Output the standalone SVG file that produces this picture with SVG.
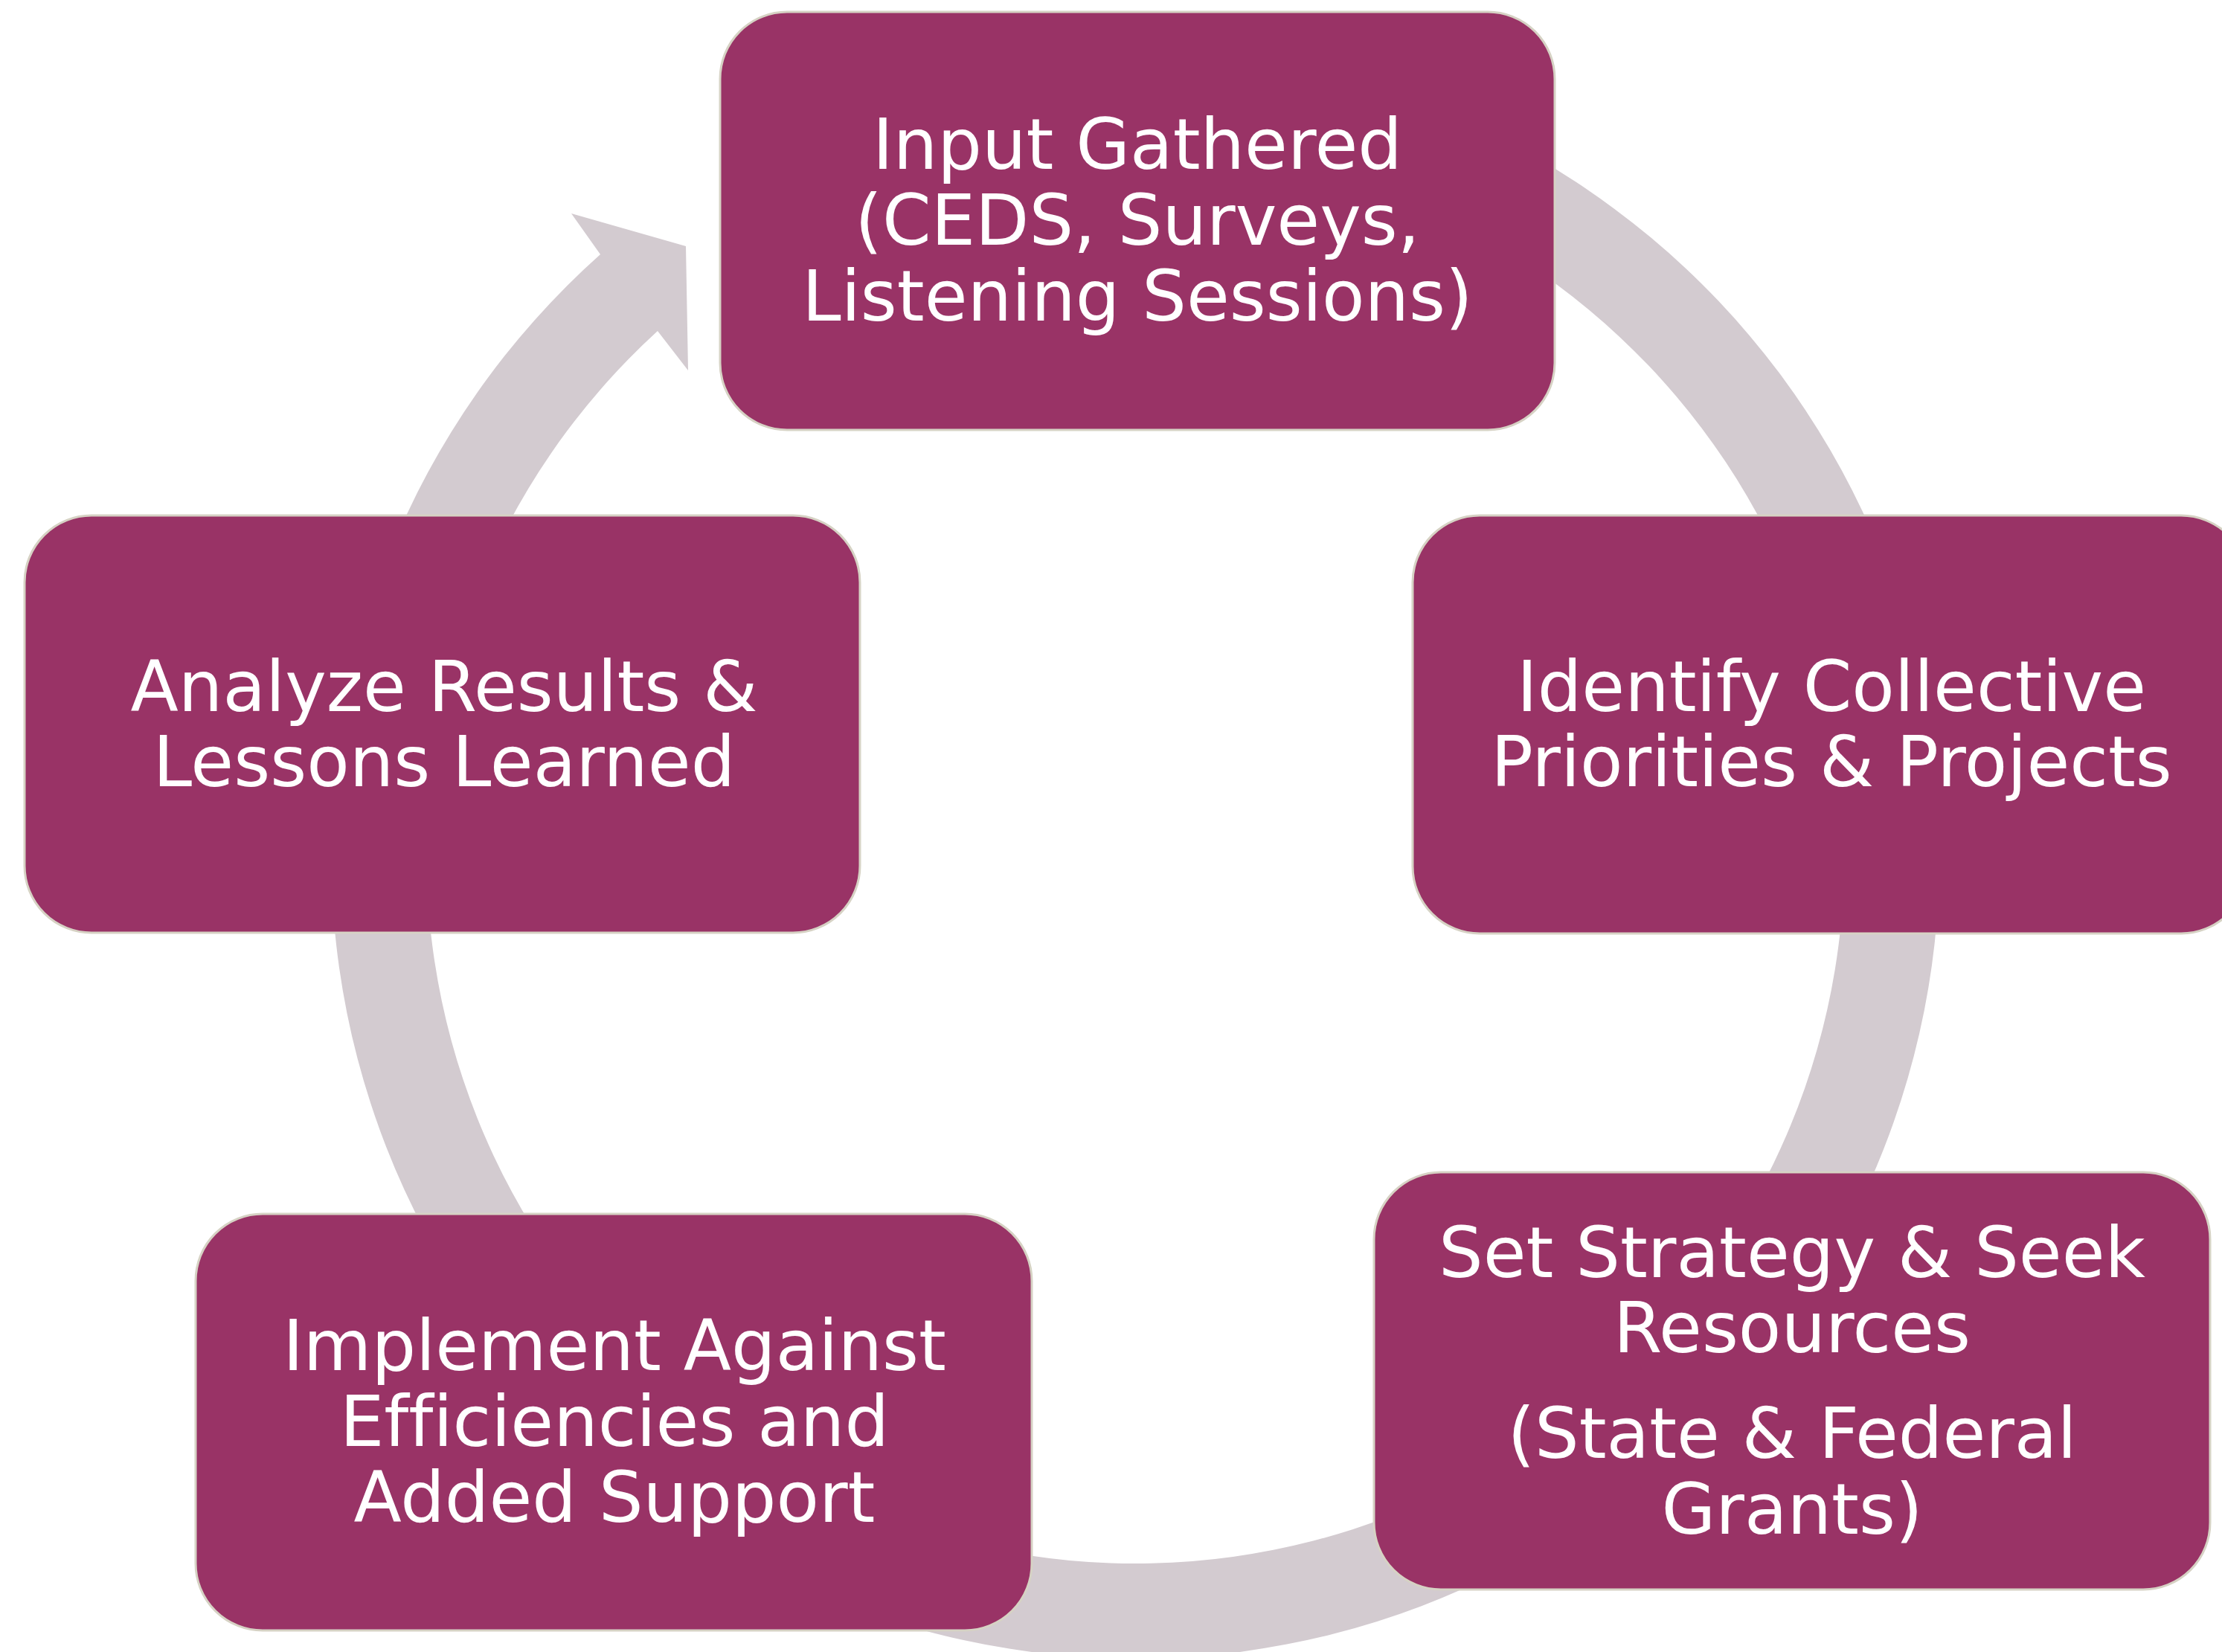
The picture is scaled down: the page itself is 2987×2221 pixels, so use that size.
<svg xmlns="http://www.w3.org/2000/svg" width="2987" height="2221" viewBox="0 0 2987 2221">
<style>
.node{fill:#993366;stroke:#D6D2C4;stroke-width:3}
.lbl{font-family:"DejaVu Sans","Verdana",sans-serif;font-size:94px;fill:#FFFFFF;text-anchor:middle;font-variant-ligatures:none}
.ring{fill:#D3CBD0}
</style>
<rect width="2987" height="2221" fill="#FFFFFF"/>
<g id="connectors">
<path class="ring" d="M1528,68 A1081,1081 0 1 1 807,342 L768,287 L922,331 L925,498 L884,445 A953,953 0 1 0 1528,196 Z"/>
</g>
<g id="node-input">
<rect class="node" x="968" y="16" width="1122" height="562" rx="90" ry="90"/>
<text class="lbl" x="1529" y="227">Input Gathered</text>
<text class="lbl" x="1529" y="329">(CEDS, Surveys,</text>
<text class="lbl" x="1529" y="431">Listening Sessions)</text>
</g>
<g id="node-identify">
<rect class="node" x="1899" y="693" width="1123" height="562" rx="90" ry="90"/>
<text class="lbl" x="2462" y="956">Identify Collective</text>
<text class="lbl" x="2462" y="1057">Priorities &amp; Projects</text>
</g>
<g id="node-strategy">
<rect class="node" x="1847" y="1576" width="1124" height="561" rx="90" ry="90"/>
<text class="lbl" x="2409" y="1717">Set Strategy &amp; Seek</text>
<text class="lbl" x="2409" y="1818">Resources</text>
<text class="lbl" x="2409" y="1960">(State &amp; Federal</text>
<text class="lbl" x="2409" y="2062">Grants)</text>
</g>
<g id="node-implement">
<rect class="node" x="263" y="1632" width="1124" height="560" rx="90" ry="90"/>
<text class="lbl" x="826" y="1842">Implement Against</text>
<text class="lbl" x="826" y="1944">Efficiencies and</text>
<text class="lbl" x="826" y="2046">Added Support</text>
</g>
<g id="node-analyze">
<rect class="node" x="33" y="693" width="1123" height="561" rx="90" ry="90"/>
<text class="lbl" x="597" y="956">Analyze Results &amp;</text>
<text class="lbl" x="597" y="1057">Lessons Learned</text>
</g>
</svg>
